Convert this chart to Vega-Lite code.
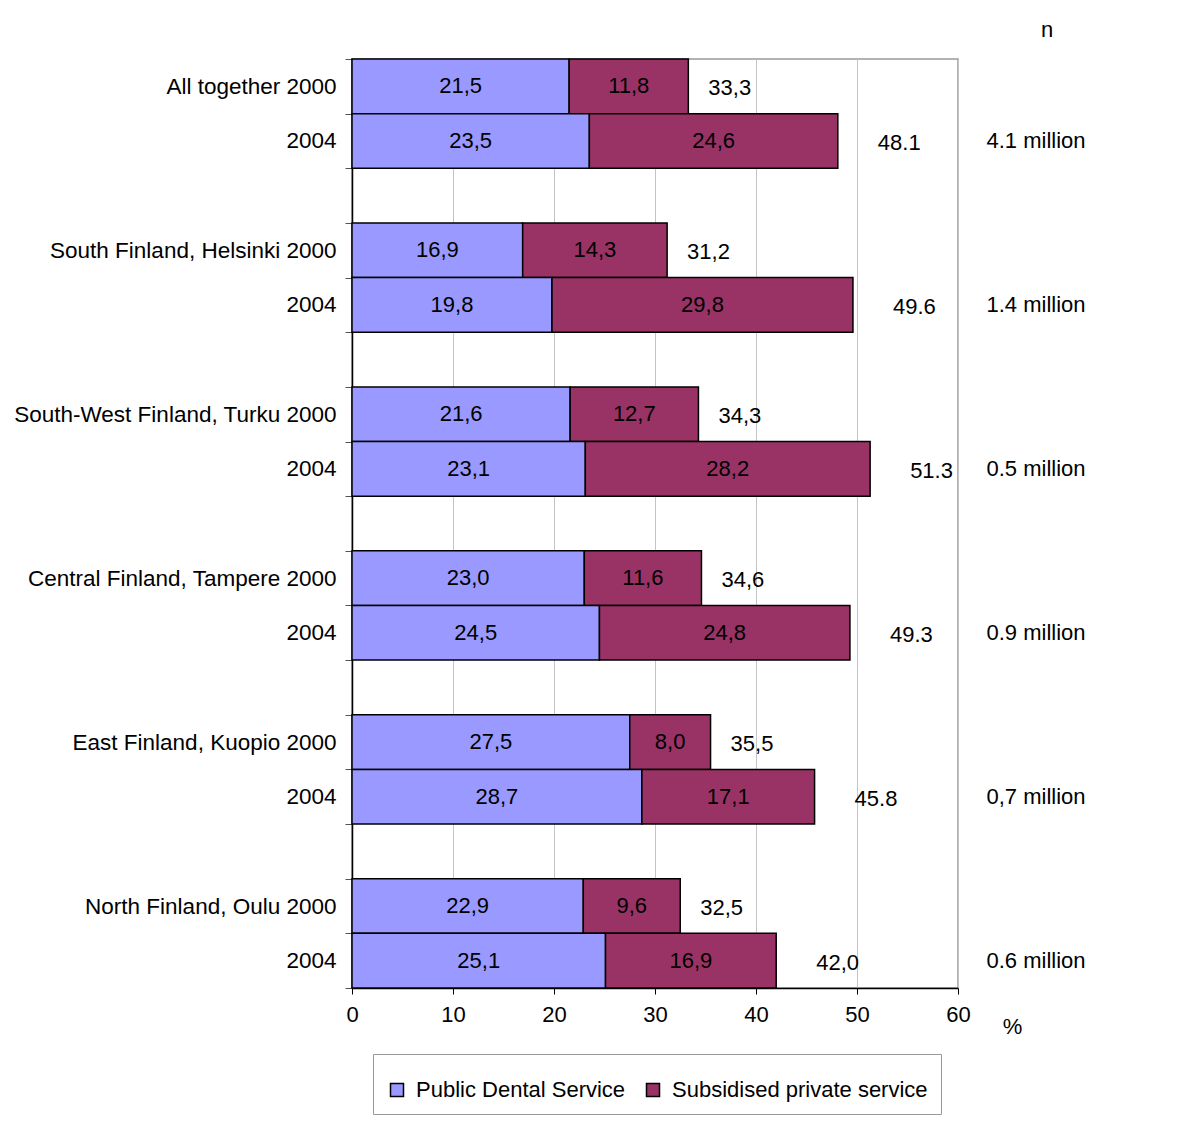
{
  "$schema": "https://vega.github.io/schema/vega-lite/v6.json",
  "padding": {"left": 12, "top": 19, "right": 0, "bottom": 0},
  "bounds": "flush",
  "spacing": 0,
  "config": {
    "font": "Liberation Sans",
    "view": {"stroke": null},
    "text": {"font": "Liberation Sans", "fontSize": 22, "color": "#000"}
  },
  "datasets": {
    "bars": [
      {"row": "01|All together 2000", "series": "Public Dental Service", "value": 21.5, "label": "21,5"},
      {"row": "01|All together 2000", "series": "Subsidised private service", "value": 11.8, "label": "11,8"},
      {"row": "02|2004", "series": "Public Dental Service", "value": 23.5, "label": "23,5"},
      {"row": "02|2004", "series": "Subsidised private service", "value": 24.6, "label": "24,6"},
      {"row": "04|South Finland, Helsinki 2000", "series": "Public Dental Service", "value": 16.9, "label": "16,9"},
      {"row": "04|South Finland, Helsinki 2000", "series": "Subsidised private service", "value": 14.3, "label": "14,3"},
      {"row": "05|2004", "series": "Public Dental Service", "value": 19.8, "label": "19,8"},
      {"row": "05|2004", "series": "Subsidised private service", "value": 29.8, "label": "29,8"},
      {"row": "07|South-West Finland, Turku 2000", "series": "Public Dental Service", "value": 21.6, "label": "21,6"},
      {"row": "07|South-West Finland, Turku 2000", "series": "Subsidised private service", "value": 12.7, "label": "12,7"},
      {"row": "08|2004", "series": "Public Dental Service", "value": 23.1, "label": "23,1"},
      {"row": "08|2004", "series": "Subsidised private service", "value": 28.2, "label": "28,2"},
      {"row": "10|Central Finland, Tampere 2000", "series": "Public Dental Service", "value": 23.0, "label": "23,0"},
      {"row": "10|Central Finland, Tampere 2000", "series": "Subsidised private service", "value": 11.6, "label": "11,6"},
      {"row": "11|2004", "series": "Public Dental Service", "value": 24.5, "label": "24,5"},
      {"row": "11|2004", "series": "Subsidised private service", "value": 24.8, "label": "24,8"},
      {"row": "13|East Finland, Kuopio 2000", "series": "Public Dental Service", "value": 27.5, "label": "27,5"},
      {"row": "13|East Finland, Kuopio 2000", "series": "Subsidised private service", "value": 8.0, "label": "8,0"},
      {"row": "14|2004", "series": "Public Dental Service", "value": 28.7, "label": "28,7"},
      {"row": "14|2004", "series": "Subsidised private service", "value": 17.1, "label": "17,1"},
      {"row": "16|North Finland, Oulu 2000", "series": "Public Dental Service", "value": 22.9, "label": "22,9"},
      {"row": "16|North Finland, Oulu 2000", "series": "Subsidised private service", "value": 9.6, "label": "9,6"},
      {"row": "17|2004", "series": "Public Dental Service", "value": 25.1, "label": "25,1"},
      {"row": "17|2004", "series": "Subsidised private service", "value": 16.9, "label": "16,9"}
    ],
    "totals": [
      {"row": "01|All together 2000", "year": "2000", "total": 33.3, "label": "33,3"},
      {"row": "02|2004", "year": "2004", "total": 48.1, "label": "48.1"},
      {"row": "04|South Finland, Helsinki 2000", "year": "2000", "total": 31.2, "label": "31,2"},
      {"row": "05|2004", "year": "2004", "total": 49.6, "label": "49.6"},
      {"row": "07|South-West Finland, Turku 2000", "year": "2000", "total": 34.3, "label": "34,3"},
      {"row": "08|2004", "year": "2004", "total": 51.3, "label": "51.3"},
      {"row": "10|Central Finland, Tampere 2000", "year": "2000", "total": 34.6, "label": "34,6"},
      {"row": "11|2004", "year": "2004", "total": 49.3, "label": "49.3"},
      {"row": "13|East Finland, Kuopio 2000", "year": "2000", "total": 35.5, "label": "35,5"},
      {"row": "14|2004", "year": "2004", "total": 45.8, "label": "45.8"},
      {"row": "16|North Finland, Oulu 2000", "year": "2000", "total": 32.5, "label": "32,5"},
      {"row": "17|2004", "year": "2004", "total": 42.0, "label": "42,0"}
    ],
    "n": [
      {"row": "02|2004", "label": "4.1 million"},
      {"row": "05|2004", "label": "1.4 million"},
      {"row": "08|2004", "label": "0.5 million"},
      {"row": "11|2004", "label": "0.9 million"},
      {"row": "14|2004", "label": "0,7 million"},
      {"row": "17|2004", "label": "0.6 million"}
    ]
  },
  "hconcat": [
    {
      "width": 606,
      "height": 929,
      "view": {"stroke": "#999999", "strokeWidth": 1.5},
      "encoding": {
        "y": {
          "field": "row",
          "type": "nominal",
          "sort": null,
          "scale": {
            "domain": ["01|All together 2000", "02|2004", "03|", "04|South Finland, Helsinki 2000", "05|2004", "06|", "07|South-West Finland, Turku 2000", "08|2004", "09|", "10|Central Finland, Tampere 2000", "11|2004", "12|", "13|East Finland, Kuopio 2000", "14|2004", "15|", "16|North Finland, Oulu 2000", "17|2004"],
            "paddingInner": 0,
            "paddingOuter": 0
          },
          "axis": {
            "title": null,
            "labelExpr": "slice(datum.label, 3)",
            "tickBand": "extent",
            "tickSize": 7,
            "labelPadding": 9,
            "labelFontSize": 22.5,
            "labelColor": "#000",
            "labelLimit": 500,
            "domainColor": "#000",
            "domainWidth": 1.5,
            "tickColor": "#555",
            "grid": false
          }
        }
      },
      "layer": [
        {
          "data": {"name": "bars"},
          "transform": [
            {"stack": "value", "groupby": ["row"], "sort": [{"field": "series"}], "as": ["v0", "v1"]}
          ],
          "mark": {"type": "bar", "stroke": "#000", "strokeWidth": 1.5},
          "encoding": {
            "x": {
              "field": "v0",
              "type": "quantitative",
              "scale": {"domain": [0, 60], "nice": false},
              "axis": {
                "values": [0, 10, 20, 30, 40, 50, 60],
                "grid": true,
                "gridColor": "#c4c4c4",
                "tickSize": 6,
                "tickColor": "#000",
                "domainColor": "#000",
                "domainWidth": 1.5,
                "labelPadding": 10,
                "labelFlush": false,
                "labelFontSize": 22,
                "labelColor": "#000",
                "title": "%",
                "titleX": 660,
                "titleY": 38,
                "titleAngle": 0,
                "titleAlign": "center",
                "titleBaseline": "middle",
                "titleFontSize": 22,
                "titleFontWeight": "normal",
                "titleColor": "#000"
              }
            },
            "x2": {"field": "v1"},
            "color": {
              "field": "series",
              "type": "nominal",
              "scale": {"domain": ["Public Dental Service", "Subsidised private service"], "range": ["#9999FF", "#993366"]},
              "legend": {
                "orient": "none",
                "legendX": 21,
                "legendY": 995,
                "direction": "horizontal",
                "title": " ",
                "titleFontSize": 12,
                "titlePadding": 0,
                "padding": 13,
                "strokeColor": "#999999",
                "fillColor": "#ffffff",
                "labelFontSize": 22,
                "labelColor": "#000",
                "labelLimit": 500,
                "labelOffset": 8,
                "columnPadding": 16,
                "symbolType": "square",
                "symbolSize": 169,
                "symbolStrokeColor": "#000",
                "symbolStrokeWidth": 1.5
              }
            }
          }
        },
        {
          "data": {"name": "bars"},
          "transform": [
            {"stack": "value", "groupby": ["row"], "sort": [{"field": "series"}], "as": ["v0", "v1"]},
            {"calculate": "(datum.v0 + datum.v1) / 2", "as": "mid"}
          ],
          "mark": {"type": "text", "align": "center", "baseline": "middle"},
          "encoding": {
            "x": {"field": "mid", "type": "quantitative"},
            "text": {"field": "label"}
          }
        },
        {
          "data": {"name": "totals"},
          "transform": [{"filter": "datum.year == '2000'"}],
          "mark": {"type": "text", "align": "left", "baseline": "middle", "dx": 20, "dy": 2},
          "encoding": {
            "x": {"field": "total", "type": "quantitative"},
            "text": {"field": "label"}
          }
        },
        {
          "data": {"name": "totals"},
          "transform": [{"filter": "datum.year == '2004'"}],
          "mark": {"type": "text", "align": "left", "baseline": "middle", "dx": 40, "dy": 2},
          "encoding": {
            "x": {"field": "total", "type": "quantitative"},
            "text": {"field": "label"}
          }
        }
      ]
    },
    {
      "width": 156,
      "height": 929,
      "title": {"text": "n", "fontSize": 22, "fontWeight": "normal", "offset": 17, "dx": 11, "anchor": "middle", "color": "#000"},
      "data": {"name": "n"},
      "mark": {"type": "text", "align": "center", "baseline": "middle"},
      "encoding": {
        "y": {
          "field": "row",
          "type": "nominal",
          "sort": null,
          "scale": {
            "domain": ["01|All together 2000", "02|2004", "03|", "04|South Finland, Helsinki 2000", "05|2004", "06|", "07|South-West Finland, Turku 2000", "08|2004", "09|", "10|Central Finland, Tampere 2000", "11|2004", "12|", "13|East Finland, Kuopio 2000", "14|2004", "15|", "16|North Finland, Oulu 2000", "17|2004"],
            "paddingInner": 0,
            "paddingOuter": 0
          },
          "axis": null
        },
        "text": {"field": "label"}
      }
    }
  ]
}
